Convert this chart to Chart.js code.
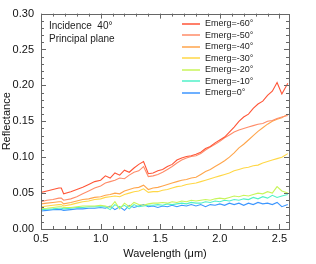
<!DOCTYPE html>
<html>
<head>
<meta charset="utf-8">
<script src="https://cdn.jsdelivr.net/npm/chart.js@4.4.0/dist/chart.umd.min.js"></script>
<style>
  html, body { margin: 0; padding: 0; background: #ffffff; }
  #wrap { width: 316px; height: 264px; }
</style>
</head>
<body>
<div id="wrap"><canvas id="ReflectanceChart" width="316" height="264"></canvas></div>
<script>
// Data
var wavelength = [0.50, 0.55, 0.60, 0.65, 0.67, 0.69, 0.75, 0.80, 0.85, 0.90, 0.95, 1.00,
  1.04, 1.08, 1.12, 1.16, 1.20, 1.24, 1.28, 1.32, 1.36, 1.40, 1.44, 1.48, 1.52, 1.56, 1.60,
  1.64, 1.68, 1.72, 1.76, 1.80, 1.84, 1.88, 1.92, 1.96, 2.00, 2.04, 2.08, 2.12, 2.16, 2.20,
  2.24, 2.28, 2.32, 2.36, 2.40, 2.44, 2.48, 2.52, 2.57];

var emerg_m60 = [0.051, 0.053, 0.055, 0.057, 0.057, 0.049, 0.052, 0.055, 0.058, 0.062, 0.066, 0.068,
  0.074, 0.071, 0.078, 0.075, 0.082, 0.079, 0.085, 0.090, 0.094, 0.077, 0.078, 0.081, 0.083, 0.087, 0.090,
  0.096, 0.099, 0.101, 0.102, 0.104, 0.107, 0.112, 0.115, 0.120, 0.124, 0.128, 0.135, 0.142, 0.150, 0.156,
  0.160, 0.168, 0.174, 0.178, 0.186, 0.192, 0.204, 0.188, 0.203];
var emerg_m50 = [0.038, 0.040, 0.041, 0.043, 0.043, 0.040, 0.042, 0.045, 0.049, 0.053, 0.057, 0.060,
  0.064, 0.066, 0.068, 0.071, 0.070, 0.075, 0.079, 0.081, 0.087, 0.073, 0.074, 0.076, 0.079, 0.083, 0.087,
  0.092, 0.096, 0.099, 0.101, 0.102, 0.105, 0.110, 0.114, 0.118, 0.122, 0.127, 0.131, 0.135, 0.138, 0.140,
  0.142, 0.144, 0.146, 0.147, 0.150, 0.151, 0.154, 0.156, 0.158];
var emerg_m40 = [0.035, 0.036, 0.037, 0.038, 0.038, 0.035, 0.037, 0.039, 0.041, 0.042, 0.044, 0.045,
  0.047, 0.048, 0.050, 0.049, 0.053, 0.055, 0.057, 0.058, 0.061, 0.055, 0.057, 0.058, 0.060, 0.062, 0.064,
  0.066, 0.068, 0.069, 0.071, 0.072, 0.076, 0.080, 0.083, 0.087, 0.091, 0.095, 0.100, 0.106, 0.113, 0.118,
  0.124, 0.130, 0.136, 0.141, 0.146, 0.150, 0.153, 0.155, 0.160];
var emerg_m30 = [0.031, 0.032, 0.033, 0.034, 0.034, 0.032, 0.034, 0.036, 0.038, 0.039, 0.041, 0.042,
  0.044, 0.045, 0.046, 0.045, 0.048, 0.050, 0.052, 0.053, 0.056, 0.051, 0.052, 0.052, 0.054, 0.055, 0.057,
  0.059, 0.060, 0.062, 0.063, 0.064, 0.066, 0.068, 0.070, 0.072, 0.074, 0.076, 0.078, 0.081, 0.083, 0.085,
  0.086, 0.088, 0.089, 0.092, 0.094, 0.096, 0.098, 0.100, 0.105];
var emerg_m20 = [0.0285, 0.029, 0.030, 0.031, 0.031, 0.030, 0.030, 0.031, 0.032, 0.032, 0.032, 0.033,
  0.032, 0.030, 0.038, 0.028, 0.036, 0.031, 0.037, 0.034, 0.033, 0.035, 0.036, 0.036, 0.037, 0.036, 0.038,
  0.037, 0.039, 0.038, 0.040, 0.039, 0.040, 0.041, 0.040, 0.042, 0.043, 0.042, 0.044, 0.046, 0.045, 0.047,
  0.046, 0.048, 0.050, 0.049, 0.052, 0.050, 0.059, 0.053, 0.050];
var emerg_m10 = [0.027, 0.0275, 0.028, 0.029, 0.029, 0.028, 0.029, 0.030, 0.030, 0.031, 0.031, 0.031,
  0.031, 0.027, 0.034, 0.030, 0.033, 0.028, 0.034, 0.031, 0.032, 0.033, 0.033, 0.034, 0.033, 0.035, 0.034,
  0.035, 0.036, 0.035, 0.037, 0.036, 0.036, 0.038, 0.037, 0.039, 0.038, 0.040, 0.039, 0.041, 0.040, 0.042,
  0.041, 0.044, 0.042, 0.045, 0.043, 0.047, 0.044, 0.046, 0.048];
var emerg_0 = [0.025, 0.026, 0.027, 0.027, 0.027, 0.026, 0.027, 0.028, 0.028, 0.029, 0.029, 0.030,
  0.029, 0.032, 0.027, 0.031, 0.026, 0.033, 0.030, 0.032, 0.034, 0.031, 0.032, 0.030, 0.032, 0.031, 0.033,
  0.031, 0.033, 0.032, 0.034, 0.032, 0.034, 0.031, 0.034, 0.033, 0.035, 0.033, 0.036, 0.034, 0.036, 0.033,
  0.036, 0.034, 0.037, 0.035, 0.036, 0.034, 0.037, 0.031, 0.034];

var series_labels = ["Emerg=-60°", "Emerg=-50°", "Emerg=-40°", "Emerg=-30°", "Emerg=-20°", "Emerg=-10°", "Emerg=0°"];
var series_data = [emerg_m60, emerg_m50, emerg_m40, emerg_m30, emerg_m20, emerg_m10, emerg_0];
var series_colors = ["rgb(255,85,55)", "rgb(255,140,105)", "rgb(255,165,75)", "rgb(255,215,70)",
  "rgb(200,245,90)", "rgb(80,240,200)", "rgb(60,150,255)"];

var x_ticks = [0.5, 1.0, 1.5, 2.0, 2.5];
var y_ticks = [0.00, 0.05, 0.10, 0.15, 0.20, 0.25, 0.30];
var note_lines = ["Incidence  40°", "Principal plane"];

function toPoints(ys) {
  var pts = [];
  for (var i = 0; i < wavelength.length; i++) {
    pts.push({ x: wavelength[i], y: ys[i] });
  }
  return pts;
}

var datasets = [];
for (var i = 0; i < series_data.length; i++) {
  datasets.push({
    label: series_labels[i],
    data: toPoints(series_data[i]),
    borderColor: series_colors[i],
    borderWidth: 1.1,
    pointRadius: 0,
    fill: false,
    tension: 0
  });
}

// frame with inward ticks on all four sides, IDL style
var framePlugin = {
  id: "frameTicks",
  afterDatasetsDraw: function(chart) {
    var ctx = chart.ctx;
    var a = chart.chartArea;
    var xs = chart.scales.x;
    var ys = chart.scales.y;
    ctx.save();
    ctx.strokeStyle = "#666666";
    ctx.lineWidth = 1;
    ctx.strokeRect(Math.round(a.left) + 0.5, Math.round(a.top) + 0.5,
      Math.round(a.right - a.left), Math.round(a.bottom - a.top));
    ctx.beginPath();
    var v, p, len;
    for (var k = 5; k <= 26; k++) {
      v = k / 10;
      if (v < xs.min || v > xs.max) continue;
      p = Math.round(xs.getPixelForValue(v)) + 0.5;
      len = (k % 5 === 0) ? 5 : 3;
      ctx.moveTo(p, a.bottom); ctx.lineTo(p, a.bottom - len);
      ctx.moveTo(p, a.top); ctx.lineTo(p, a.top + len);
    }
    for (var j = 0; j <= 30; j++) {
      v = j / 100;
      p = Math.round(ys.getPixelForValue(v)) + 0.5;
      len = (j % 5 === 0) ? 5 : 3;
      ctx.moveTo(a.left, p); ctx.lineTo(a.left + len, p);
      ctx.moveTo(a.right, p); ctx.lineTo(a.right - len, p);
    }
    ctx.stroke();

    // note text, upper left
    ctx.fillStyle = "#222222";
    ctx.font = "10px 'Liberation Sans', Arial, sans-serif";
    ctx.textBaseline = "middle";
    ctx.textAlign = "left";
    ctx.fillText(note_lines[0], a.left + 8, a.top + 13);
    ctx.fillText(note_lines[1], a.left + 8, a.top + 25.5);

    // legend, upper right inside the frame
    ctx.font = "9px 'Liberation Sans', Arial, sans-serif";
    ctx.lineWidth = 1.5;
    for (var d = 0; d < series_labels.length; d++) {
      var yy = a.top + 10 + d * 11.5;
      ctx.strokeStyle = series_colors[d];
      ctx.beginPath();
      ctx.moveTo(a.left + 141, Math.round(yy));
      ctx.lineTo(a.left + 159, Math.round(yy));
      ctx.stroke();
      ctx.fillStyle = "#222222";
      ctx.fillText(series_labels[d], a.left + 164, yy);
    }
    ctx.restore();
  }
};

var ctx = document.getElementById("ReflectanceChart").getContext("2d");
var reflectance_chart = new Chart(ctx, {
  type: "line",
  data: { datasets: datasets },
  options: {
    responsive: false,
    animation: false,
    layout: { padding: { top: 13, right: 27, left: 0, bottom: 0 } },
    plugins: { legend: { display: false }, tooltip: { enabled: false } },
    scales: {
      x: {
        type: "linear",
        min: 0.5,
        max: 2.58,
        grid: { display: false, drawTicks: false },
        border: { display: false },
        afterBuildTicks: function(scale) {
          scale.ticks = x_ticks.map(function(v) { return { value: v }; });
        },
        afterFit: function(scale) { scale.height = 35; },
        ticks: {
          padding: 3,
          color: "#111111",
          font: { family: "'Liberation Sans', Arial, sans-serif", size: 11 },
          maxRotation: 0,
          callback: function(v) { return Number(v).toFixed(1); }
        },
        title: {
          display: true,
          text: "Wavelength (μm)",
          color: "#111111",
          padding: { top: 0, bottom: 3 },
          font: { family: "'Liberation Sans', Arial, sans-serif", size: 11 }
        }
      },
      y: {
        min: 0,
        max: 0.3,
        grid: { display: false, drawTicks: false },
        border: { display: false },
        afterBuildTicks: function(scale) {
          scale.ticks = y_ticks.map(function(v) { return { value: v }; });
        },
        afterFit: function(scale) { scale.width = 41; },
        ticks: {
          padding: 7,
          color: "#111111",
          font: { family: "'Liberation Sans', Arial, sans-serif", size: 11 },
          callback: function(v) { return Number(v).toFixed(2); }
        },
        title: {
          display: true,
          text: "Reflectance",
          color: "#111111",
          padding: { top: 0, bottom: 0 },
          font: { family: "'Liberation Sans', Arial, sans-serif", size: 11 }
        }
      }
    }
  },
  plugins: [framePlugin]
});
</script>
</body>
</html>
